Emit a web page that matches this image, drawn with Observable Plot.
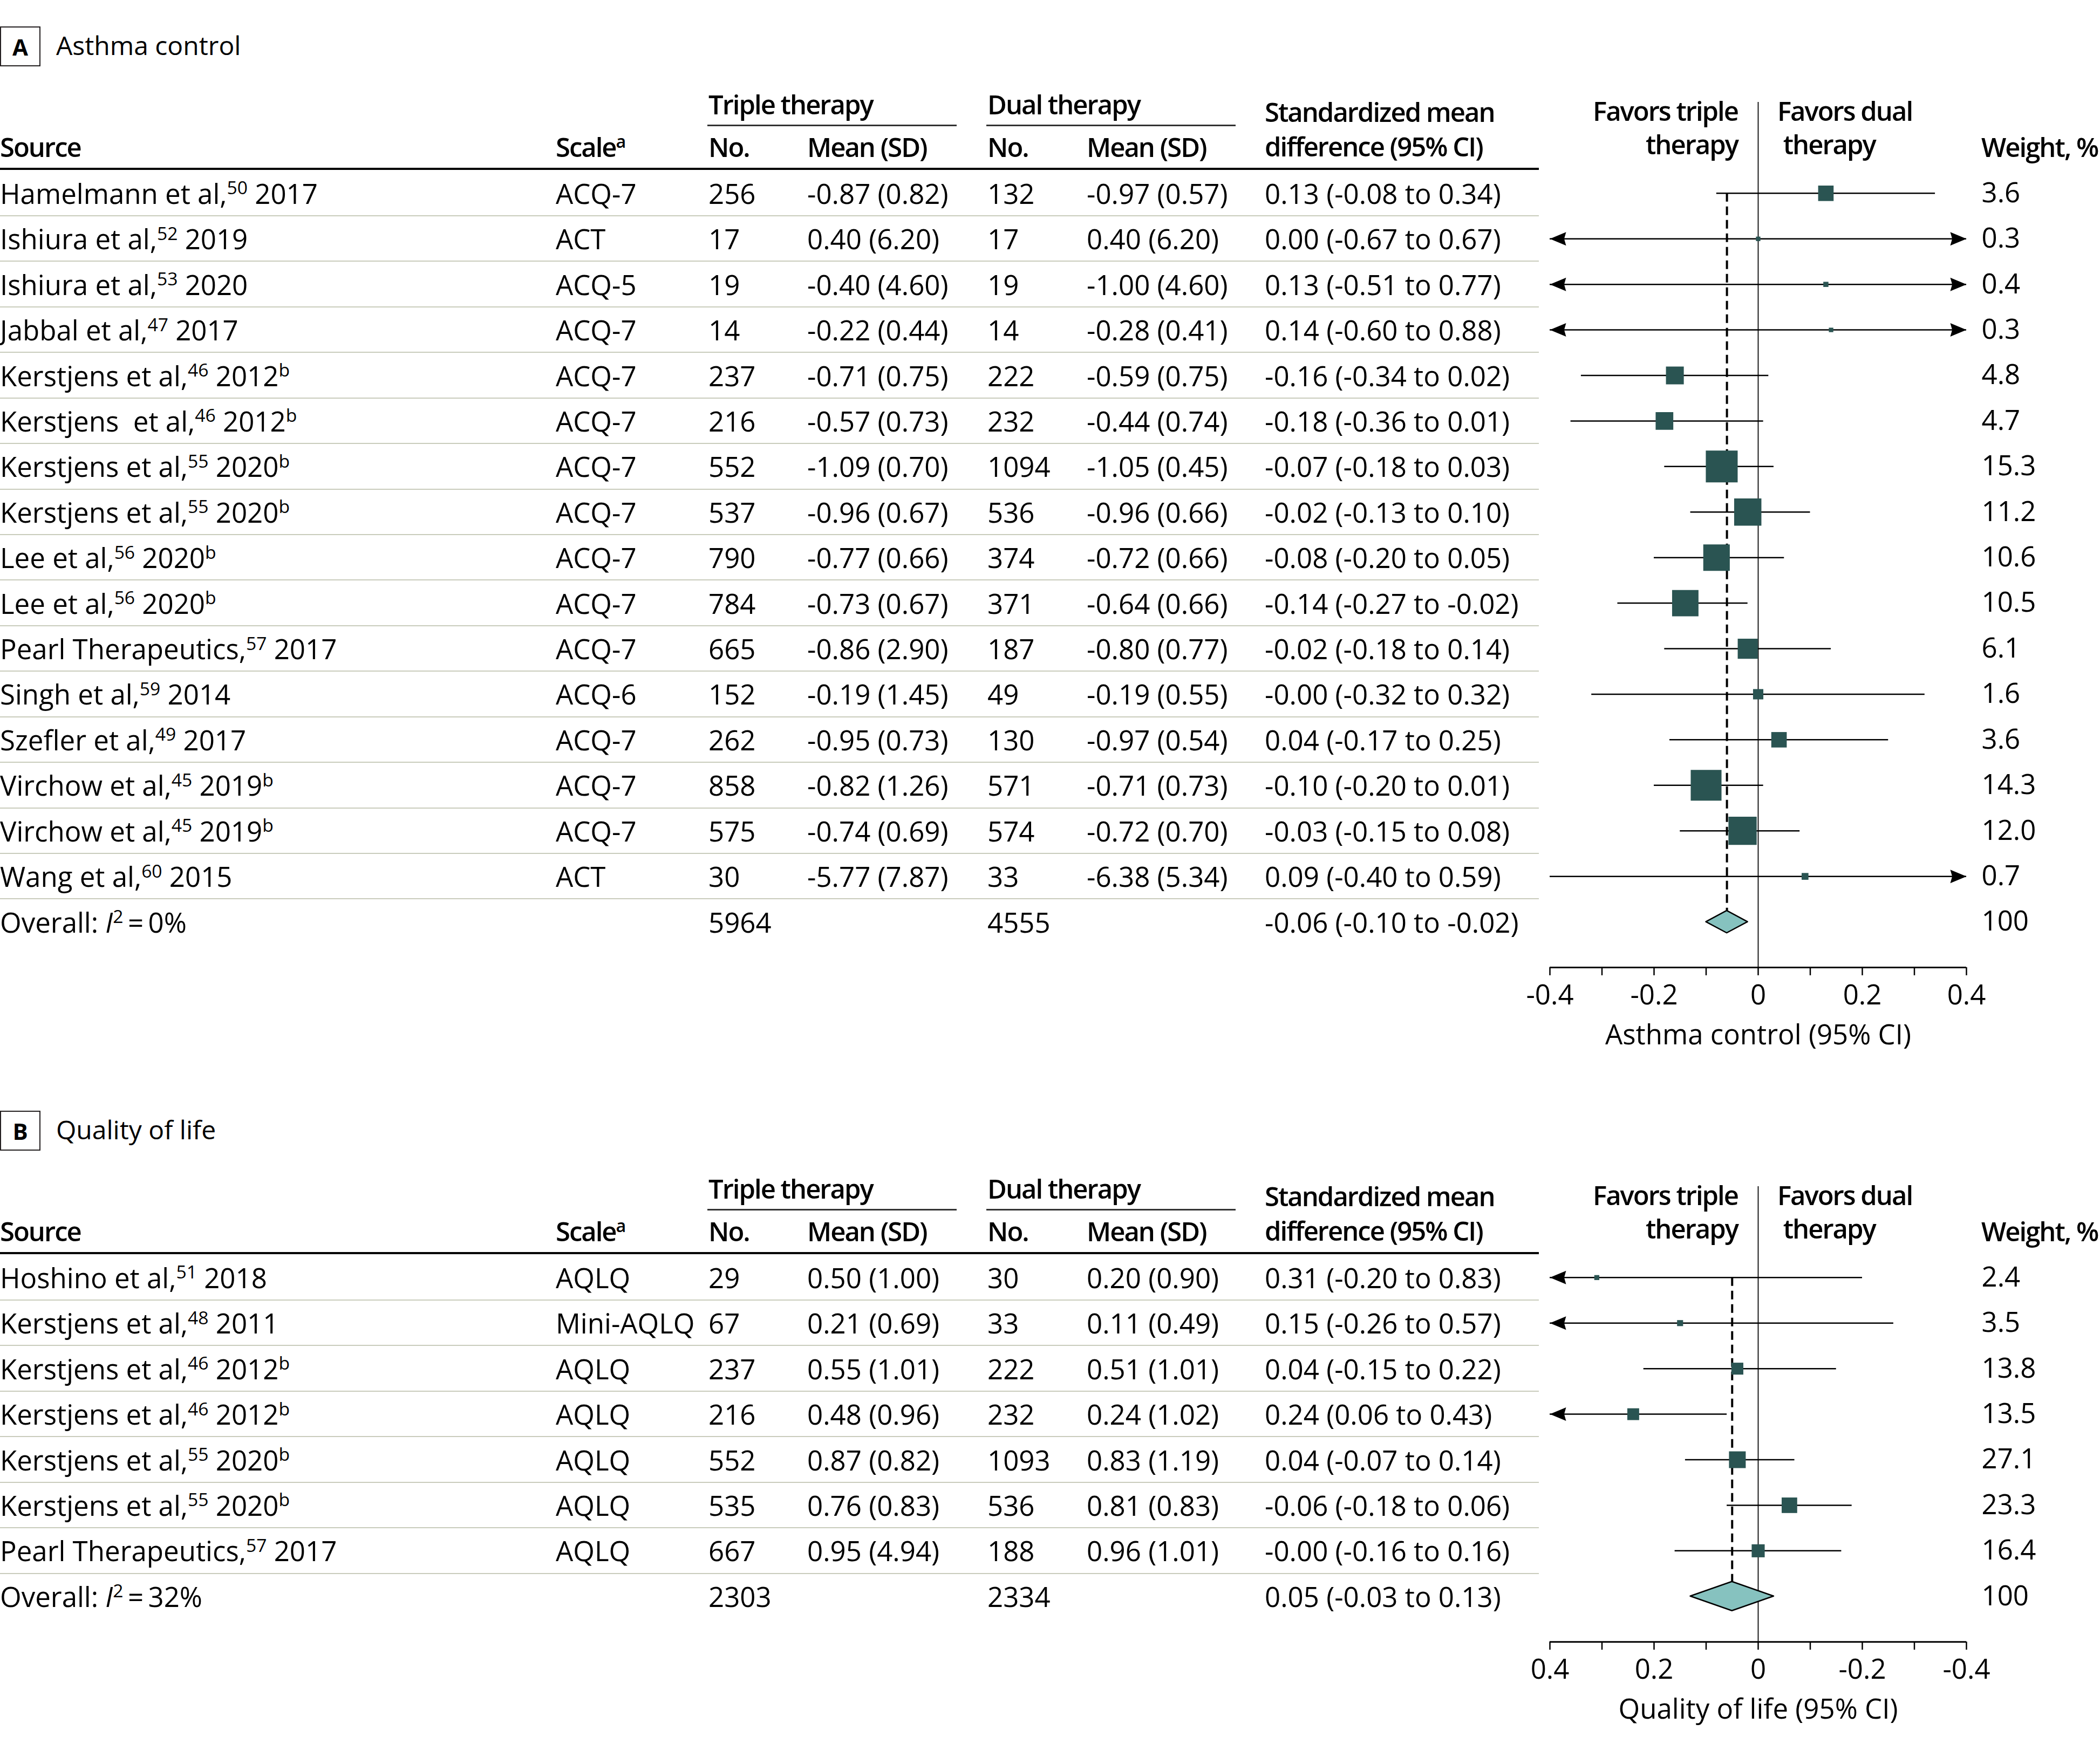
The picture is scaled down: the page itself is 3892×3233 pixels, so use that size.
<!DOCTYPE html>
<html>
<head>
<meta charset="utf-8">
<script src="https://cdn.jsdelivr.net/npm/d3@7"></script>
<script src="https://cdn.jsdelivr.net/npm/@observablehq/plot@0.6"></script>
<style>
html, body { margin: 0; padding: 0; background: #fff; }
body { width: 3892px; height: 3233px; overflow: hidden; position: relative;
  font-family: "Open Sans", "Noto Sans", Lato, sans-serif; font-size: 51px; color: #000; }
.t { position: absolute; white-space: pre; line-height: 0; height: 0; }
.b { font-weight: 600; letter-spacing: -2px; }
sup { font-size: 0.66em; line-height: 0; position: relative; top: -0.52em; vertical-align: baseline; }
.rule { position: absolute; }
.box { position: absolute; box-sizing: border-box; border: 2px solid #231f20; display: flex;
  align-items: center; justify-content: center; font-weight: 700; }
.plotwrap { position: absolute; }
</style>
</head>
<body>
<script>
// ---------------- Panel A: Asthma control ----------------
const sourceA = ["Hamelmann et al,", "Ishiura et al,", "Ishiura et al,", "Jabbal et al,", "Kerstjens et al,", "Kerstjens  et al,", "Kerstjens et al,", "Kerstjens et al,", "Lee et al,", "Lee et al,", "Pearl Therapeutics,", "Singh et al,", "Szefler et al,", "Virchow et al,", "Virchow et al,", "Wang et al,"];
const refA = [50, 52, 53, 47, 46, 46, 55, 55, 56, 56, 57, 59, 49, 45, 45, 60];
const yearA = [2017, 2019, 2020, 2017, 2012, 2012, 2020, 2020, 2020, 2020, 2017, 2014, 2017, 2019, 2019, 2015];
const noteA = ["", "", "", "", "b", "b", "b", "b", "b", "b", "", "", "", "b", "b", ""];
const scaleA = ["ACQ-7", "ACT", "ACQ-5", "ACQ-7", "ACQ-7", "ACQ-7", "ACQ-7", "ACQ-7", "ACQ-7", "ACQ-7", "ACQ-7", "ACQ-6", "ACQ-7", "ACQ-7", "ACQ-7", "ACT"];
const tripleNA = [256, 17, 19, 14, 237, 216, 552, 537, 790, 784, 665, 152, 262, 858, 575, 30];
const tripleMeanA = [-0.87, 0.40, -0.40, -0.22, -0.71, -0.57, -1.09, -0.96, -0.77, -0.73, -0.86, -0.19, -0.95, -0.82, -0.74, -5.77];
const tripleSDA = [0.82, 6.20, 4.60, 0.44, 0.75, 0.73, 0.70, 0.67, 0.66, 0.67, 2.90, 1.45, 0.73, 1.26, 0.69, 7.87];
const dualNA = [132, 17, 19, 14, 222, 232, 1094, 536, 374, 371, 187, 49, 130, 571, 574, 33];
const dualMeanA = [-0.97, 0.40, -1.00, -0.28, -0.59, -0.44, -1.05, -0.96, -0.72, -0.64, -0.80, -0.19, -0.97, -0.71, -0.72, -6.38];
const dualSDA = [0.57, 6.20, 4.60, 0.41, 0.75, 0.74, 0.45, 0.66, 0.66, 0.66, 0.77, 0.55, 0.54, 0.73, 0.70, 5.34];
const smdA = [0.13, 0.00, 0.13, 0.14, -0.16, -0.18, -0.07, -0.02, -0.08, -0.14, -0.02, -0.00, 0.04, -0.10, -0.03, 0.09];
const lowA = [-0.08, -0.67, -0.51, -0.60, -0.34, -0.36, -0.18, -0.13, -0.20, -0.27, -0.18, -0.32, -0.17, -0.20, -0.15, -0.40];
const highA = [0.34, 0.67, 0.77, 0.88, 0.02, 0.01, 0.03, 0.10, 0.05, -0.02, 0.14, 0.32, 0.25, 0.01, 0.08, 0.59];
const weightA = [3.6, 0.3, 0.4, 0.3, 4.8, 4.7, 15.3, 11.2, 10.6, 10.5, 6.1, 1.6, 3.6, 14.3, 12.0, 0.7];
const overallA = {tn: 5964, dn: 4555, smd: -0.06, lo: -0.10, hi: -0.02, i2: "0%"};

// ---------------- Panel B: Quality of life ----------------
const sourceB = ["Hoshino et al,", "Kerstjens et al,", "Kerstjens et al,", "Kerstjens et al,", "Kerstjens et al,", "Kerstjens et al,", "Pearl Therapeutics,"];
const refB = [51, 48, 46, 46, 55, 55, 57];
const yearB = [2018, 2011, 2012, 2012, 2020, 2020, 2017];
const noteB = ["", "", "b", "b", "b", "b", ""];
const scaleB = ["AQLQ", "Mini-AQLQ", "AQLQ", "AQLQ", "AQLQ", "AQLQ", "AQLQ"];
const tripleNB = [29, 67, 237, 216, 552, 535, 667];
const tripleMeanB = [0.50, 0.21, 0.55, 0.48, 0.87, 0.76, 0.95];
const tripleSDB = [1.00, 0.69, 1.01, 0.96, 0.82, 0.83, 4.94];
const dualNB = [30, 33, 222, 232, 1093, 536, 188];
const dualMeanB = [0.20, 0.11, 0.51, 0.24, 0.83, 0.81, 0.96];
const dualSDB = [0.90, 0.49, 1.01, 1.02, 1.19, 0.83, 1.01];
const smdB = [0.31, 0.15, 0.04, 0.24, 0.04, -0.06, -0.00];
const lowB = [-0.20, -0.26, -0.15, 0.06, -0.07, -0.18, -0.16];
const highB = [0.83, 0.57, 0.22, 0.43, 0.14, 0.06, 0.16];
const weightB = [2.4, 3.5, 13.8, 13.5, 27.1, 23.3, 16.4];
const overallB = {tn: 2303, dn: 2334, smd: 0.05, lo: -0.03, hi: 0.13, i2: "32%"};

// ---------------- Axis ----------------
const xDomain = [-0.4, 0.4];
const tickValues = [-0.4, -0.3, -0.2, -0.1, 0, 0.1, 0.2, 0.3, 0.4];
const tickLabels = ["-0.4", "", "-0.2", "", "0", "", "0.2", "", "0.4"];

// ---------------- Styles / layout ----------------
const FONT = '"Open Sans", "Noto Sans", Lato, sans-serif';
const FS = 51, HFS = 49;
const ROW = 84.42;
const MT = 39, MB = 197, SVG_TOP = 150, SVG_LEFT = 2860, SVG_W = 1032;
const SQUARE = "#2a5452", DIAMOND = "#86c2bf", SEP = "#c9ccbc";
const TABLE_W = 2852;
const COL = {source: 0, scale: 1030, tn: 1313, tm: 1496, dn: 1830, dm: 2014, smd: 2344, weightDx: 28};

const f2 = v => (v < 0 || Object.is(v, -0) ? "-" : "") + Math.abs(v).toFixed(2);

function build(source, ref, year, note, scale, tn, tm, tsd, dn, dm, dsd, smd, lo, hi, w) {
  return source.map((s, i) => ({
    i, source: s, ref: ref[i], year: year[i], note: note[i], scale: scale[i],
    tn: tn[i], tm: tm[i], tsd: tsd[i], dn: dn[i], dm: dm[i], dsd: dsd[i],
    smd: smd[i], lo: lo[i], hi: hi[i], w: w[i]
  }));
}
const studiesA = build(sourceA, refA, yearA, noteA, scaleA, tripleNA, tripleMeanA, tripleSDA, dualNA, dualMeanA, dualSDA, smdA, lowA, highA, weightA);
const studiesB = build(sourceB, refB, yearB, noteB, scaleB, tripleNB, tripleMeanB, tripleSDB, dualNB, dualMeanB, dualSDB, smdB, lowB, highB, weightB);

const body = document.body;
// text with first baseline at `baseline`; multi-line via "\n" with line gap `gap`
function text(str, {left, right, baseline, bold, size, gap}) {
  const d = document.createElement("div");
  d.className = "t" + (bold ? " b" : "");
  d.innerHTML = str.split("\n").join("<br>");
  const fs = size || (bold ? HFS : FS);
  d.style.fontSize = fs + "px";
  const L = gap || 0;
  if (L) { d.style.lineHeight = L + "px"; d.style.height = "auto"; }
  d.style.top = (baseline - 0.388 * fs - L / 2) + "px";
  if (left != null) d.style.left = left + "px";
  if (right != null) { d.style.right = (3892 - right) + "px"; d.style.textAlign = "right"; }
  body.appendChild(d);
}
function cell(html, left, centerY) {
  const d = document.createElement("div");
  d.className = "t";
  d.innerHTML = html;
  d.style.left = left + "px";
  d.style.top = centerY + "px";
  body.appendChild(d);
}
function rule(left, top, width, height, color) {
  const d = document.createElement("div");
  d.className = "rule";
  Object.assign(d.style, {left: left + "px", top: top + "px", width: width + "px", height: height + "px", background: color});
  body.appendChild(d);
}

const arrowLen = 30, arrowHalf = 12.5;
const arrowRight = {draw(c) { c.moveTo(0, 0); c.lineTo(-arrowLen, -arrowHalf); c.lineTo(-arrowLen * 0.88, 0); c.lineTo(-arrowLen, arrowHalf); c.closePath(); }};
const arrowLeft = {draw(c) { c.moveTo(0, 0); c.lineTo(arrowLen, -arrowHalf); c.lineTo(arrowLen * 0.88, 0); c.lineTo(arrowLen, arrowHalf); c.closePath(); }};

function panel(cfg) {
  const T = cfg.top;
  const studies = cfg.studies, ov = cfg.overall;
  const n = studies.length;
  const axisRow = n + 1;
  const lo = xDomain[0], hi = xDomain[1];

  // Label + title
  const box = document.createElement("div");
  box.className = "box";
  Object.assign(box.style, {left: "0px", top: (T + 49) + "px", width: "75px", height: "74px", fontSize: "42px"});
  box.textContent = cfg.letter;
  body.appendChild(box);
  text(cfg.title, {left: 104, baseline: T + 103, size: 48});

  // Column headers
  text("Triple therapy", {left: COL.tn, baseline: T + 212, bold: true});
  rule(COL.tn - 2, T + 231, 462, 3, "#333");
  text("Dual therapy", {left: COL.dn, baseline: T + 212, bold: true});
  rule(COL.dn - 2, T + 231, 462, 3, "#333");
  text("Standardized mean\ndifference (95% CI)", {left: COL.smd, baseline: T + 226, bold: true, gap: 64});
  text("Source", {left: COL.source, baseline: T + 291, bold: true});
  text("Scale<sup>a</sup>", {left: COL.scale, baseline: T + 291, bold: true});
  text("No.", {left: COL.tn, baseline: T + 291, bold: true});
  text("Mean (SD)", {left: COL.tm, baseline: T + 291, bold: true});
  text("No.", {left: COL.dn, baseline: T + 291, bold: true});
  text("Mean (SD)", {left: COL.dm, baseline: T + 291, bold: true});
  text("Favors triple\ntherapy", {right: 3221, baseline: T + 224, bold: true, gap: 62});
  text("Favors dual\n therapy", {left: 3294, baseline: T + 224, bold: true, gap: 62});
  text("Weight, %", {left: 3672, baseline: T + 291, bold: true});
  rule(0, T + 311, TABLE_W, 4, "#000");

  // Forest plot data
  const clampX = v => Math.max(lo, Math.min(hi, v));
  const arrows = [];
  studies.forEach(d => {
    if (d.lo < lo) arrows.push({i: d.i, x: lo, dir: -1});
    if (d.hi > hi) arrows.push({i: d.i, x: hi, dir: 1});
  });
  const toRight = a => (cfg.reverse ? -a.dir : a.dir) > 0;
  const h = cfg.diamondHalf;
  const diamond = [
    {y: n - h, x1: ov.smd, x2: ov.smd},
    {y: n, x1: ov.lo, x2: ov.hi},
    {y: n + h, x1: ov.smd, x2: ov.smd}
  ];
  const weightRows = studies.map(d => ({i: d.i, label: d.w.toFixed(1)})).concat([{i: n, label: "100"}]);
  const tickLabelOf = new Map(tickValues.map((v, k) => [v, tickLabels[k]]));

  const chart = Plot.plot({
    width: SVG_W,
    height: MT + ROW * (axisRow + 2) + MB,
    marginLeft: 12, marginRight: SVG_W - 12 - 772, marginTop: MT, marginBottom: MB,
    style: {fontFamily: FONT, fontSize: FS + "px", background: "transparent", overflow: "visible", color: "#000"},
    x: {domain: xDomain, reverse: cfg.reverse, axis: null},
    y: {domain: [-2, axisRow], reverse: true, axis: null},
    r: {type: "sqrt", domain: [0, d3.max(studies, d => d.w)], range: [0, cfg.rMax]},
    marks: [
      Plot.ruleX([0], {stroke: "#1a1a1a", strokeWidth: 2}),
      Plot.ruleY([axisRow], {stroke: "#000", strokeWidth: 3}),
      Plot.axisX({ticks: tickValues, tickFormat: d => tickLabelOf.get(d), tickSize: 15, tickPadding: 17, strokeWidth: 2.5, label: null, anchor: "bottom"}),
      Plot.ruleX([ov], {x: "smd", y1: 0, y2: n - h, stroke: "#000", strokeWidth: 4, strokeDasharray: "16,9"}),
      Plot.ruleY(studies, {y: "i", x1: d => clampX(d.lo), x2: d => clampX(d.hi), stroke: "#000", strokeWidth: 2.5}),
      Plot.dot(arrows.filter(toRight), {x: "x", y: "i", symbol: arrowRight, r: 10, fill: "#000", stroke: "none"}),
      Plot.dot(arrows.filter(a => !toRight(a)), {x: "x", y: "i", symbol: arrowLeft, r: 10, fill: "#000", stroke: "none"}),
      Plot.dot(studies, {x: "smd", y: "i", r: "w", symbol: "square", fill: SQUARE, stroke: "none"}),
      Plot.areaX(diamond, {y: "y", x1: "x1", x2: "x2", fill: DIAMOND, stroke: "#000", strokeWidth: 2.5, curve: "linear"}),
      Plot.text(weightRows, {y: "i", text: "label", frameAnchor: "right", textAnchor: "start", dx: COL.weightDx, lineAnchor: "middle"}),
      Plot.text([cfg.axisTitle], {x: d3.mean(xDomain), y: axisRow, text: d => d, lineAnchor: "top", dy: 106, textAnchor: "middle"})
    ]
  });
  const wrap = document.createElement("div");
  wrap.className = "plotwrap";
  wrap.style.left = SVG_LEFT + "px";
  wrap.style.top = (T + SVG_TOP) + "px";
  wrap.appendChild(chart);
  body.appendChild(wrap);

  // Table rows aligned through the plot's y scale
  const ys = chart.scale("y");
  const yPage = v => T + SVG_TOP + ys.apply(v);
  studies.forEach(d => {
    const c = yPage(d.i);
    cell(`${d.source}<sup>${d.ref}</sup> ${d.year}${d.note ? "<sup>" + d.note + "</sup>" : ""}`, COL.source, c);
    cell(d.scale, COL.scale, c);
    cell(String(d.tn), COL.tn, c);
    cell(`${f2(d.tm)} (${d.tsd.toFixed(2)})`, COL.tm, c);
    cell(String(d.dn), COL.dn, c);
    cell(`${f2(d.dm)} (${d.dsd.toFixed(2)})`, COL.dm, c);
    cell(`${f2(d.smd)} (${f2(d.lo)} to ${f2(d.hi)})`, COL.smd, c);
    rule(0, yPage(d.i + 0.5) - 1, TABLE_W, 2, SEP);
  });
  const c = yPage(n);
  cell(`Overall: <i>I</i><sup>2</sup>\u2009=\u2009${ov.i2}`, COL.source, c);
  cell(String(ov.tn), COL.tn, c);
  cell(String(ov.dn), COL.dn, c);
  cell(`${f2(ov.smd)} (${f2(ov.lo)} to ${f2(ov.hi)})`, COL.smd, c);
}

panel({top: 0, letter: "A", title: "Asthma control", studies: studiesA, overall: overallA,
  reverse: false, rMax: 33.3, diamondHalf: 0.245, axisTitle: "Asthma control (95% CI)"});
panel({top: 2010, letter: "B", title: "Quality of life", studies: studiesB, overall: overallB,
  reverse: true, rMax: 17.5, diamondHalf: 0.32, axisTitle: "Quality of life (95% CI)"});
</script>
</body>
</html>
